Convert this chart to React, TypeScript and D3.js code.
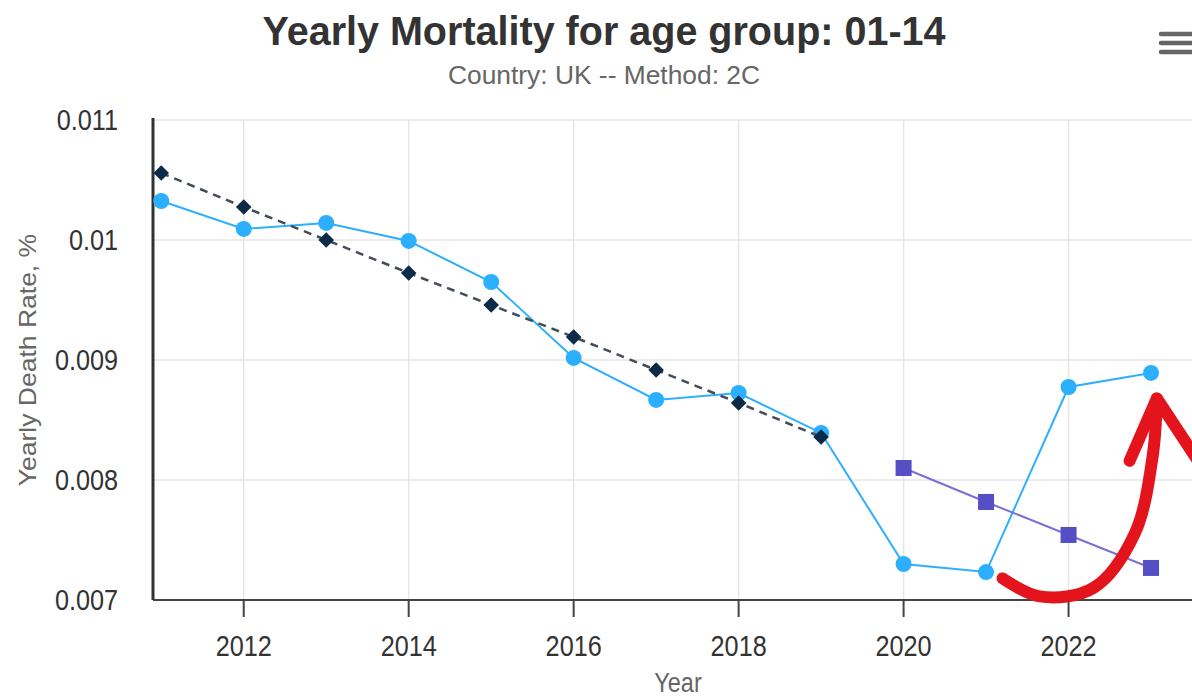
import * as d3 from 'd3'

const years = [2011, 2012, 2013, 2014, 2015, 2016, 2017, 2018, 2019, 2020, 2021, 2022, 2023]
const actualRate = [
  0.010325, 0.010092, 0.010142, 0.009992, 0.00965, 0.009017, 0.008667, 0.008725, 0.008392, 0.0073,
  0.007233, 0.008775, 0.008892,
]
const trendYears = [2011, 2012, 2013, 2014, 2015, 2016, 2017, 2018, 2019]
const trendRate = [0.010558, 0.010275, 0.01, 0.009725, 0.009458, 0.009192, 0.008917, 0.008642, 0.008358]
const projYears = [2020, 2021, 2022, 2023]
const projRate = [0.0081, 0.007817, 0.007542, 0.007267]
const yTicks = [0.007, 0.008, 0.009, 0.01, 0.011]
const xTicks = [2012, 2014, 2016, 2018, 2020, 2022]

// hand drawn red arrow, in data units (year, rate)
const arrowX = [2021.2, 2021.65, 2022.3, 2022.8, 2023.02, 2023.07]
const arrowY = [0.00718, 0.00703, 0.0071, 0.00755, 0.0082, 0.00868]
const headX = [2022.74, 2023.07, 2023.55]
const headY = [0.00816, 0.00868, 0.00818]

const W = 1192
const H = 698
const FONT = "'Liberation Sans', Arial, sans-serif"
const SQ = 0.87 // horizontal squeeze of the source picture

export default function App() {
  const x = d3.scaleLinear().domain([2010.9, 2023.63]).range([153, 1203])
  const y = d3.scaleLinear().domain([0.007, 0.011]).range([600, 120])
  const left = 153
  const right = 1203
  const top = y(0.011)
  const bottom = y(0.007)

  const line = d3
    .line<[number, number]>()
    .x((d) => x(d[0]))
    .y((d) => y(d[1]))

  const actual = years.map((yr, i) => [yr, actualRate[i]] as [number, number])
  const trend = trendYears.map((yr, i) => [yr, trendRate[i]] as [number, number])
  const proj = projYears.map((yr, i) => [yr, projRate[i]] as [number, number])
  const arrow = arrowX.map((v, i) => [v, arrowY[i]] as [number, number])
  const head = headX.map((v, i) => [v, headY[i]] as [number, number])
  const curved = d3
    .line<[number, number]>()
    .x((d) => x(d[0]))
    .y((d) => y(d[1]))
    .curve(d3.curveCatmullRom)

  return (
    <svg
      width={W}
      height={H}
      style={{ position: 'absolute', left: 0, top: 0, background: '#fff' }}
      fontFamily={FONT}
    >
      <rect width={W} height={H} fill="#fff" />
      <text
        x={604}
        y={45}
        textAnchor="middle"
        fontSize={41}
        fontWeight="bold"
        fill="#333"
        textLength={683}
        lengthAdjust="spacingAndGlyphs"
      >
        Yearly Mortality for age group: 01-14
      </text>
      <text
        x={604}
        y={84}
        textAnchor="middle"
        fontSize={25}
        fill="#666"
        textLength={312}
        lengthAdjust="spacingAndGlyphs"
      >
        Country: UK -- Method: 2C
      </text>

      {/* hamburger menu */}
      {[34, 43, 52].map((yy) => (
        <line key={yy} x1={1161} x2={1194} y1={yy} y2={yy} stroke="#666" strokeWidth={4.5} strokeLinecap="round" />
      ))}

      {/* grid */}
      {yTicks.map((t) => (
        <line key={'gy' + t} x1={left} x2={right} y1={y(t)} y2={y(t)} stroke="#e6e6e6" strokeWidth={1.5} />
      ))}
      {xTicks.map((t) => (
        <line key={'gx' + t} x1={x(t)} x2={x(t)} y1={top} y2={bottom} stroke="#e6e6e6" strokeWidth={1.5} />
      ))}

      {/* axes */}
      <line x1={left} x2={right} y1={bottom} y2={bottom} stroke="#444" strokeWidth={2} />
      <line x1={left} x2={left} y1={top - 2} y2={bottom} stroke="#333" strokeWidth={3} />
      {xTicks.map((t) => (
        <g key={'xt' + t} transform={`translate(${x(t)},${bottom})`}>
          <line y1={0} y2={17} stroke="#444" strokeWidth={2} />
          <text y={56} textAnchor="middle" fontSize={29} fill="#333" transform={`scale(${SQ},1)`}>
            {t}
          </text>
        </g>
      ))}
      {yTicks.map((t) => (
        <g key={'yt' + t} transform={`translate(${left - 35},${y(t)})`}>
          <text y={10} textAnchor="end" fontSize={29} fill="#333" transform={`scale(${SQ},1)`}>
            {d3.format('~g')(t)}
          </text>
        </g>
      ))}
      <text
        transform={`translate(${(left + right) / 2},692) scale(${SQ},1)`}
        textAnchor="middle"
        fontSize={27}
        fill="#666"
      >
        Year
      </text>
      <text
        transform={`translate(36,${(top + bottom) / 2}) scale(${SQ},1) rotate(-90)`}
        textAnchor="middle"
        fontSize={26.5}
        fill="#666"
      >
        Yearly Death Rate, %
      </text>

      {/* actual series */}
      <path d={line(actual) ?? ''} fill="none" stroke="#2caffe" strokeWidth={2} />
      {actual.map((d) => (
        <circle key={'a' + d[0]} cx={x(d[0])} cy={y(d[1])} r={8} fill="#2caffe" />
      ))}

      {/* trend series */}
      <path d={line(trend) ?? ''} fill="none" stroke="#444c57" strokeWidth={2.5} strokeDasharray="8,6" />
      {trend.map((d) => (
        <rect
          key={'t' + d[0]}
          x={-5.5}
          y={-5.5}
          width={11}
          height={11}
          fill="#0c2b48"
          transform={`translate(${x(d[0])},${y(d[1])}) rotate(45)`}
        />
      ))}

      {/* projection series */}
      <path d={line(proj) ?? ''} fill="none" stroke="#7b70d6" strokeWidth={2} />
      {proj.map((d) => (
        <rect key={'p' + d[0]} x={x(d[0]) - 8} y={y(d[1]) - 8} width={16} height={16} fill="#544fc5" />
      ))}

      {/* red annotation arrow */}
      <path
        d={curved(arrow) ?? ''}
        fill="none"
        stroke="#e3141c"
        strokeWidth={12}
        strokeLinecap="round"
        strokeLinejoin="round"
      />
      <path
        d={line(head) ?? ''}
        fill="none"
        stroke="#e3141c"
        strokeWidth={12}
        strokeLinecap="round"
        strokeLinejoin="round"
      />
    </svg>
  )
}
